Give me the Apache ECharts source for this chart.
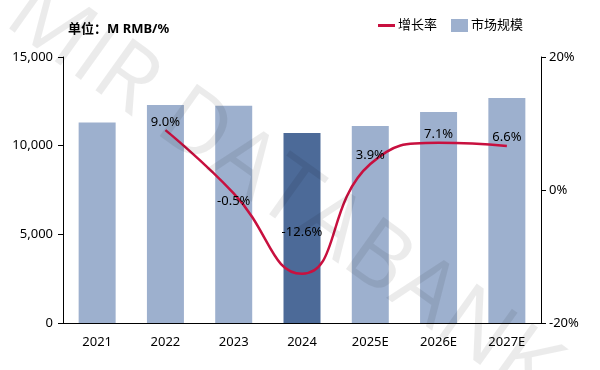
<!DOCTYPE html>
<html>
<head>
<meta charset="utf-8">
<script src="https://cdn.jsdelivr.net/npm/echarts@6/dist/echarts.min.js"></script>
<style>html,body{margin:0;padding:0;background:#fff}#c{width:600px;height:370px}</style>
</head>
<body>
<div id="c"></div>
<script>
const categories = ['2021','2022','2023','2024','2025E','2026E','2027E'];
const marketSize = [11300, 12300, 12250, 10710, 11110, 11900, 12690];
const growthRate = [null, 9.0, -0.5, -12.6, 3.9, 7.1, 6.6];
const leftTicks = [0, 5000, 10000, 15000];
const rightTicks = [-20, 0, 20];
const highlightIndex = 3;
const labelPlacement = [null, ['top',1], ['bottom',1], ['top',35], ['top',2], ['top',2], ['top',2]];

const FONT = '"Noto Sans", "Noto Sans CJK SC", sans-serif';
const chart = echarts.init(document.getElementById('c'), null, {renderer:'canvas'});

chart.setOption({
  backgroundColor: '#fff',
  animation: false,
  title: {
    text: '单位：M RMB/%',
    left: 63, top: 18,
    textStyle: {fontSize: 13, fontWeight: 'bold', color: '#000', fontFamily: FONT}
  },
  legend: {
    left: 373, top: 14,
    itemWidth: 17, itemHeight: 13, itemGap: 14,
    textStyle: {fontSize: 13, color: '#000', fontFamily: FONT, padding: [0,0,0,-2]},
    data: [
      {name: '增长率', icon: 'path://M0,0 L17,0 L17,3 L0,3 Z', itemStyle: {color: '#C8103F'}},
      {name: '市场规模', icon: 'rect'}
    ]
  },
  grid: {left: 63, right: 59, top: 57, bottom: 47, containLabel: false},
  xAxis: {
    type: 'category',
    data: categories,
    axisLine: {lineStyle: {color: '#000', width: 1}},
    axisTick: {show: false},
    axisLabel: {fontSize: 13, color: '#000', fontFamily: FONT, margin: 13}
  },
  yAxis: [{
    type: 'value',
    min: leftTicks[0], max: leftTicks[leftTicks.length-1], interval: leftTicks[1]-leftTicks[0],
    splitLine: {show: false},
    axisLine: {show: true, lineStyle: {color: '#000'}},
    axisTick: {show: true, length: 5, lineStyle: {color: '#000'}},
    axisLabel: {fontSize: 13, color: '#000', fontFamily: FONT, margin: 10,
      formatter: v => v.toLocaleString('en-US')}
  }, {
    type: 'value',
    min: rightTicks[0], max: rightTicks[rightTicks.length-1], interval: rightTicks[1]-rightTicks[0],
    splitLine: {show: false},
    axisLine: {show: true, lineStyle: {color: '#000'}},
    axisTick: {show: true, length: 5, lineStyle: {color: '#000'}},
    axisLabel: {fontSize: 13, color: '#000', fontFamily: FONT, margin: 8, formatter: '{value}%'}
  }],
  series: [{
    name: '市场规模',
    type: 'bar',
    barWidth: 37,
    itemStyle: {color: '#9DB0CE'},
    data: marketSize.map((v, i) => i === highlightIndex ? {value: v, itemStyle: {color: '#4C6A98'}} : v),
    z: 2
  }, {
    name: '增长率',
    type: 'line',
    yAxisIndex: 1,
    smooth: 0.5,
    symbol: 'circle',
    symbolSize: 0.1,
    showSymbol: true,
    lineStyle: {color: '#C8103F', width: 2.5},
    itemStyle: {color: '#C8103F'},
    data: growthRate.map((v, i) => v === null ? null : {
      value: v,
      label: {show: true, position: labelPlacement[i][0], distance: labelPlacement[i][1]}
    }),
    label: {show: true, fontSize: 13, color: '#000', fontFamily: FONT,
      formatter: p => Number(p.value).toFixed(1) + '%'},
    z: 3
  }],
  graphic: [{
    type: 'text',
    x: 282, y: 192,
    rotation: -0.62,
    silent: true,
    z: 100,
    style: {
      text: 'MIR DATABANK',
      fontSize: 90,
      fontFamily: '"Open Sans", sans-serif',
      fill: 'rgba(0,0,0,0.08)',
      textAlign: 'center',
      textVerticalAlign: 'middle'
    }
  }]
});
</script>
</body>
</html>
